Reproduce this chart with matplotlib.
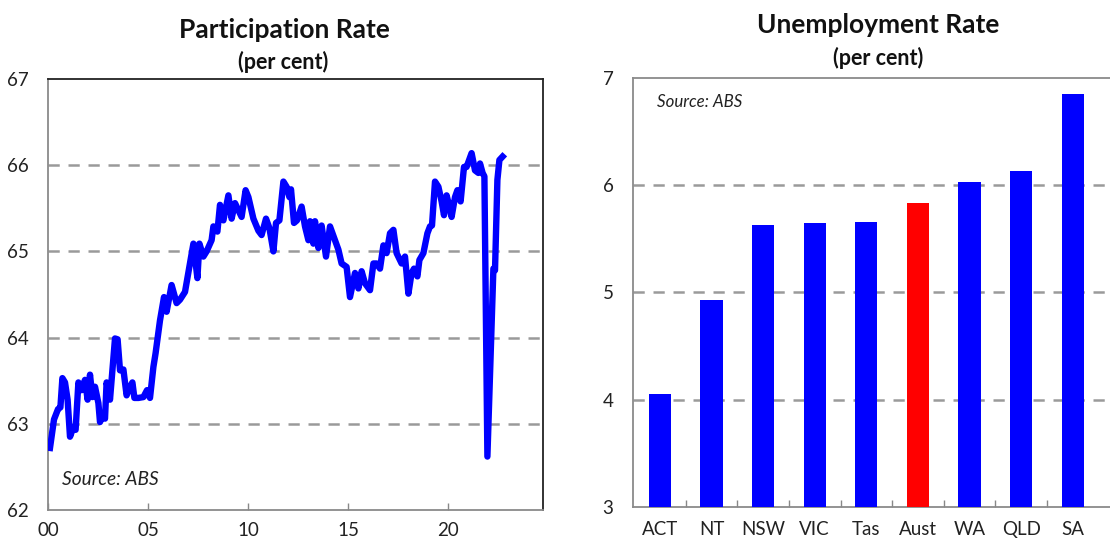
import matplotlib
matplotlib.use("Agg")
import matplotlib.pyplot as plt
import numpy as np

plt.rcParams['font.family'] = ['Lato', 'DejaVu Sans']

# --- datos: tasa de participación (posición en el eje, por ciento) ---
part_x = [2000.10, 2000.30, 2000.50, 2000.62, 2000.72, 2000.85, 2000.98, 2001.10,
          2001.27, 2001.38, 2001.52, 2001.68, 2001.85, 2001.98, 2002.10, 2002.22,
          2002.35, 2002.52, 2002.60, 2002.77, 2002.85, 2002.93, 2003.10, 2003.35,
          2003.48, 2003.60, 2003.77, 2003.93, 2004.10, 2004.22, 2004.32, 2004.52,
          2004.77, 2004.95, 2005.10, 2005.27, 2005.38, 2005.60, 2005.80, 2005.93,
          2006.18, 2006.43, 2006.60, 2006.85, 2007.10, 2007.27, 2007.47, 2007.57,
          2007.77, 2007.93, 2008.18, 2008.27, 2008.47, 2008.60, 2008.77, 2009.02,
          2009.18, 2009.35, 2009.68, 2009.88, 2010.02, 2010.27, 2010.52, 2010.68,
          2010.90, 2011.07, 2011.27, 2011.40, 2011.57, 2011.77, 2011.93, 2012.07,
          2012.15, 2012.30, 2012.45, 2012.68, 2012.85, 2013.02, 2013.10, 2013.27,
          2013.35, 2013.52, 2013.68, 2013.90, 2014.10, 2014.35, 2014.52, 2014.68,
          2014.93, 2015.10, 2015.35, 2015.52, 2015.68, 2015.85, 2016.10, 2016.27,
          2016.43, 2016.60, 2016.77, 2016.93, 2017.10, 2017.27, 2017.43, 2017.68,
          2017.85, 2018.02, 2018.18, 2018.30, 2018.47, 2018.57, 2018.77, 2018.97,
          2019.10, 2019.20, 2019.35, 2019.52, 2019.68, 2019.80, 2019.93, 2020.07,
          2020.18, 2020.35, 2020.47, 2020.63, 2020.80, 2020.93, 2021.18, 2021.35,
          2021.52, 2021.60, 2021.73, 2021.82, 2021.97, 2022.27, 2022.35, 2022.47,
          2022.57, 2022.73]
part_y = [62.72, 63.05, 63.17, 63.19, 63.53, 63.48, 63.28, 62.85,
          62.96, 62.93, 63.48, 63.39, 63.51, 63.28, 63.57, 63.31,
          63.43, 63.24, 63.02, 63.12, 63.06, 63.48, 63.28, 63.99,
          63.98, 63.62, 63.63, 63.33, 63.43, 63.48, 63.30, 63.30,
          63.31, 63.39, 63.30, 63.66, 63.82, 64.20, 64.47, 64.30,
          64.61, 64.40, 64.44, 64.53, 64.86, 65.09, 64.69, 65.09,
          64.94, 65.00, 65.13, 65.29, 65.23, 65.54, 65.36, 65.65,
          65.38, 65.56, 65.40, 65.71, 65.63, 65.38, 65.24, 65.19,
          65.38, 65.27, 65.00, 65.33, 65.36, 65.81, 65.75, 65.63,
          65.72, 65.33, 65.36, 65.52, 65.29, 65.13, 65.35, 65.09,
          65.35, 65.04, 65.30, 64.94, 65.29, 65.13, 65.02, 64.86,
          64.82, 64.47, 64.75, 64.57, 64.77, 64.63, 64.55, 64.86,
          64.86, 64.80, 65.07, 64.98, 65.21, 65.25, 64.98, 64.86,
          64.94, 64.51, 64.75, 64.80, 64.71, 64.90, 64.98, 65.21,
          65.29, 65.30, 65.81, 65.75, 65.58, 65.42, 65.65, 65.52,
          65.40, 65.63, 65.71, 65.58, 65.98, 65.98, 66.14, 65.94,
          65.91, 66.02, 65.91, 65.87, 62.62, 64.80, 64.78, 65.83,
          66.06, 66.10]
part_ticks = [2000, 2005, 2010, 2015, 2020]
part_labels = ['00', '05', '10', '15', '20']

# --- datos: tasa de desempleo por estado ---
estados = ['ACT', 'NT', 'NSW', 'VIC', 'Tas', 'Aust', 'WA', 'QLD', 'SA']
desempleo = [4.05, 4.93, 5.63, 5.65, 5.66, 5.83, 6.03, 6.13, 6.85]

AZUL = '#0000ff'
ROJO = '#ff0000'
GRIS = '#9a9a9a'

fig = plt.figure(figsize=(11.10, 5.42), dpi=100)

# --- panel izquierdo ---
ax1 = fig.add_axes([48/1110, 1-510/542, 495/1110, 431/542])
ax1.plot(part_x, part_y, color=AZUL, lw=4.6, solid_joinstyle='round', zorder=3)
ax1.set_xlim(2000, 2024.75)
ax1.set_ylim(62, 67)
ax1.set_yticks([62, 63, 64, 65, 66, 67])
ax1.set_xticks(part_ticks)
ax1.set_xticklabels(part_labels)
for v in [63, 64, 65, 66]:
    ax1.axhline(v, color=GRIS, lw=1.8, ls=(0, (4.5, 3.5)), zorder=1)
ax1.tick_params(axis='y', length=0, pad=14, labelsize=13.5, colors='#222222')
ax1.tick_params(axis='x', direction='in', length=5, width=1, color='#888888',
                pad=9, labelsize=13.5, labelcolor='#222222')
ax1.spines['left'].set_color('#8a8a8a')
ax1.spines['bottom'].set_color('#8a8a8a')
ax1.spines['top'].set_color('#222222')
ax1.spines['right'].set_color('#222222')
for s in ax1.spines.values():
    s.set_linewidth(1.3)
ax1.text(14/495, 0.07, 'Source: ABS', transform=ax1.transAxes,
         fontsize=13.8, style='italic', color='#222222', va='center')

fig.text(284/1110, 1-30/542, 'Participation Rate', ha='center', va='center',
         fontsize=19, fontweight='bold', color='#111111')
fig.text(283/1110, 1-62/542, '(per cent)', ha='center', va='center',
         fontsize=15.5, fontweight='bold', color='#111111')

# --- panel derecho ---
ax2 = fig.add_axes([633/1110, 1-507/542, 1-633/1110, 429/542])
pos = np.arange(len(estados))
colores = [ROJO if e == 'Aust' else AZUL for e in estados]
ax2.bar(pos, desempleo, width=0.43, color=colores, bottom=0, zorder=3)
ax2.set_xlim(-0.52, 8.72)
ax2.set_ylim(3, 7)
ax2.set_yticks([3, 4, 5, 6, 7])
ax2.set_xticks(pos)
ax2.set_xticklabels(estados)
ax2.set_xticks(pos[:-1] + 0.5, minor=True)
for v in [4, 5, 6]:
    ax2.axhline(v, color=GRIS, lw=1.8, ls=(0, (4.5, 3.5)), zorder=1)
ax2.tick_params(axis='y', length=0, pad=14, labelsize=13.5, colors='#222222')
ax2.tick_params(axis='x', which='major', length=0, pad=10, labelsize=13.5,
                colors='#222222')
ax2.tick_params(axis='x', which='minor', direction='in', length=5, width=1,
                color='#888888')
for s in ['left', 'bottom', 'top']:
    ax2.spines[s].set_color('#8a8a8a')
    ax2.spines[s].set_linewidth(1.3)
ax2.spines['right'].set_visible(False)
ax2.text(0.05, 0.945, 'Source: ABS', transform=ax2.transAxes,
         fontsize=12.2, style='italic', color='#222222', va='center')

fig.text(878/1110, 1-25/542, 'Unemployment Rate', ha='center', va='center',
         fontsize=19, fontweight='bold', color='#111111')
fig.text(878/1110, 1-58/542, '(per cent)', ha='center', va='center',
         fontsize=15.5, fontweight='bold', color='#111111')

fig.savefig('out.png', dpi=100)
